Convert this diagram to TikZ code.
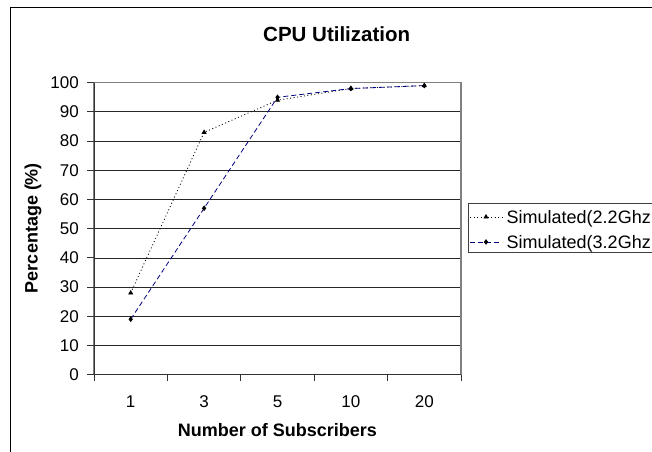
\documentclass[tikz,border=0pt]{standalone}
\usepackage{fontspec}
\setmainfont{Liberation Sans}
\usetikzlibrary{plotmarks}
\definecolor{simnavy}{RGB}{0,0,128}
\definecolor{framegray}{RGB}{128,128,128}

\begin{document}
\begin{tikzpicture}[x=1bp, y=-1bp,
    gridline/.style={black!85, line width=0.8bp},
    axisline/.style={black!80, line width=0.9bp},
    ticklabel/.style={inner sep=0pt, font=\fontsize{17bp}{20bp}\selectfont},
    axistitle/.style={inner sep=0pt, font=\bfseries\fontsize{18bp}{21bp}\selectfont},
    legendtext/.style={inner sep=0pt, anchor=base west, font=\fontsize{18bp}{21bp}\selectfont},
    simslow/.style={black, line width=0.8bp, dash pattern=on 1bp off 2.5bp,
        mark=triangle*, mark size=2.2bp, mark options={solid}},
    simfast/.style={simnavy, line width=0.8bp, dash pattern=on 5bp off 3bp,
        mark=diamond*, mark size=2.2bp, mark options={solid, black, fill=black}}]
    \useasboundingbox (0,0) rectangle (652,452);

    % Chart Frame
    \draw[black, line width=1bp] (10,460) -- (10,7.5) -- (660,7.5);

    % Title
    \node[inner sep=0pt, anchor=base, font=\bfseries\fontsize{20.5bp}{24bp}\selectfont]
        (title) at (336.7,41.7) {CPU Utilization};

    % Plot Area
    \begin{scope}[shift={(94bp,-374.7bp)}, x=73.4bp, y=2.92bp]
        \foreach \v in {10,20,...,90}
            \draw[gridline] (0,\v) -- (5,\v);
        \draw[framegray, line width=1.2bp] (0,0) rectangle (5,100);
        \draw[axisline] (0,100) -- (0,0) -- (5,0);

        % Value Axis
        \foreach \v in {0,10,...,100} {
            \draw[axisline] (0,\v) -- ++(-7bp,0);
            \node[ticklabel, anchor=east] (y\v) at ([xshift=-15bp]0,\v) {\v};
        }

        % Category Axis
        \foreach \i in {0,...,5}
            \draw[axisline] (\i,0) -- ++(0,-6bp);
        \foreach \n [count=\i] in {1,3,5,10,20}
            \node[ticklabel] (x\n) at ([yshift=-26.8bp]{\i-0.5},0) {\n};

        % Series
        \draw[simslow] plot coordinates {(0.5,28) (1.5,83) (2.5,94) (3.5,98) (4.5,99)};
        \draw[simfast] plot coordinates {(0.5,19) (1.5,57) (2.5,95) (3.5,98) (4.5,99)};
    \end{scope}

    % Axis Titles
    \node[axistitle, rotate=90] (ytitle) at (33,228) {Percentage (\%)};
    \node[axistitle] (xtitle) at (277.5,430.5) {Number of Subscribers};

    % Legend
    \draw[black!75, line width=1bp] (468.5,204) rectangle (680,253);
    \draw[simslow, mark indices={2}] plot coordinates {(470,217) (486,217) (502,217)};
    \node[legendtext] (slowkey) at (506.5,223.2) {Simulated(2.2Ghz};
    \draw[simfast, mark indices={2}] plot coordinates {(470,242) (486,242) (502,242)};
    \node[legendtext] (fastkey) at (506.5,248.4) {Simulated(3.2Ghz};
\end{tikzpicture}
\end{document}
